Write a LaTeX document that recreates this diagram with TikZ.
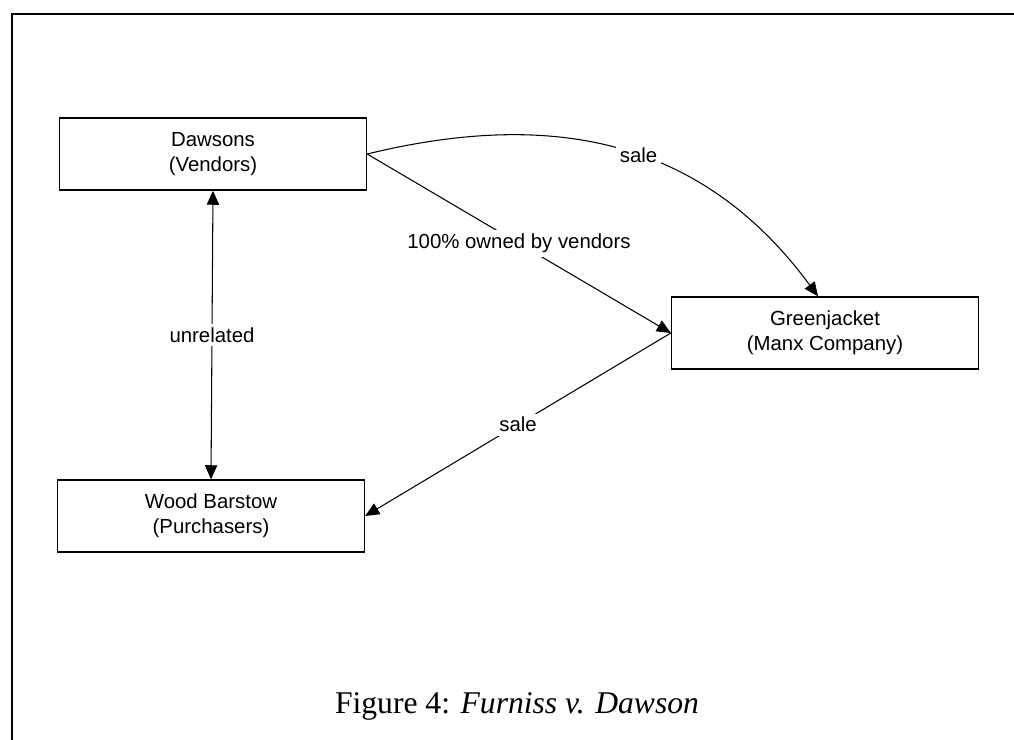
\documentclass[tikz,border=0pt]{standalone}
\usepackage{fontspec}
\setmainfont{Liberation Serif}
\setsansfont{Liberation Sans}
\usetikzlibrary{arrows.meta}
\tikzset{
	party/.style={draw,line width=0.8pt,minimum width=6.14cm,minimum height=1.44cm,align=center,font=\sffamily\fontsize{11.6}{14}\selectfont},
	link/.style={line width=0.6pt,-{Triangle[length=8pt,width=7pt]}},
	twoway/.style={line width=0.6pt,{Triangle[length=8pt,width=7pt]}-{Triangle[length=8pt,width=7pt]}},
	tag/.style={fill=white,inner sep=2pt,font=\sffamily\fontsize{11.6}{14}\selectfont}
}
\begin{document}
\begin{tikzpicture}[x=0.02cm,y=-0.02cm]
	\useasboundingbox (0,0) rectangle (1014,740);
	\draw[line width=1.1pt] (1014,14)--(12,14)--(12,740);
	\node[party] (D) at (213,154) {Dawsons\\(Vendors)};
	\node[party] (W) at (211,516) {Wood Barstow\\(Purchasers)};
	\node[party] (G) at (825,333) {Greenjacket\\(Manx Company)};
	\path ([xshift=-0.14cm]G.north) coordinate (Gn);
	\draw[twoway] (D.south)--(W.north) node[tag,midway]{unrelated};
	\draw[link] (D.east)--(G.west) node[tag,midway]{100\% owned by vendors};
	\draw[link] (D.east) .. controls (548,110) and (700,136) .. (Gn) node[tag,pos=0.55]{sale};
	\draw[link] (G.west)--(W.east) node[tag,midway]{sale};
	\node (cap) at (517,706) {\fontsize{18}{22}\selectfont Figure 4: \textit{Furniss v. Dawson}};
\end{tikzpicture}
\end{document}
